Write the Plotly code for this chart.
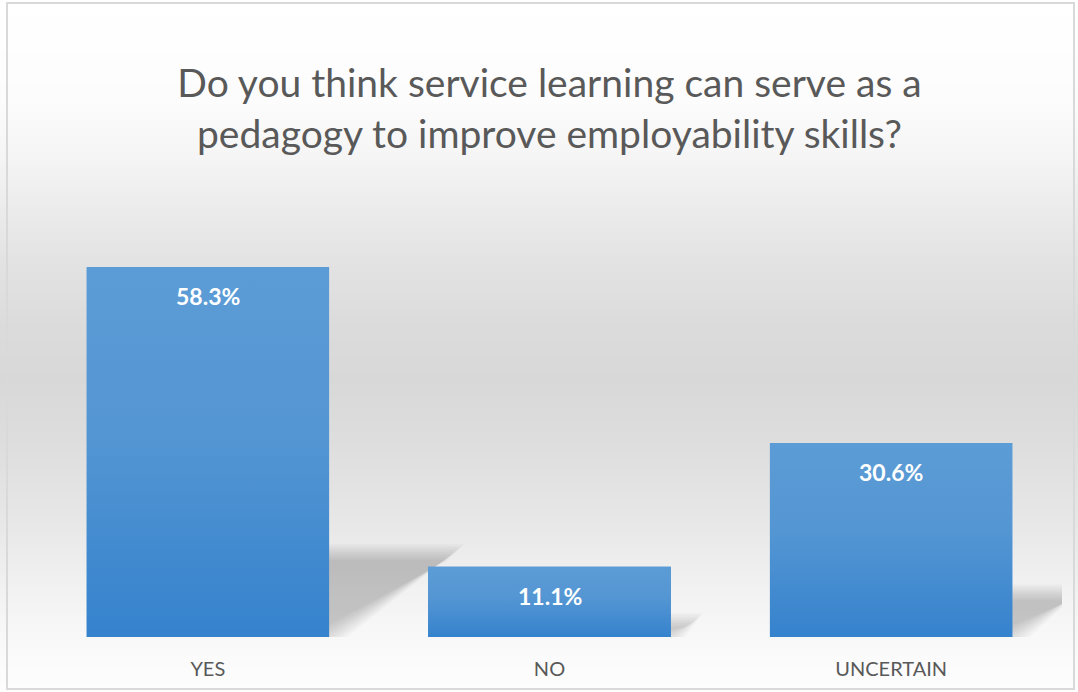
import plotly.graph_objects as go

# Survey answers and their share of respondents (%)
categories = ["YES", "NO", "UNCERTAIN"]
percentages = [58.3, 11.1, 30.6]

TITLE = "Do you think service learning can serve as a<br>pedagogy to improve employability skills?"

# ---- geometry -------------------------------------------------------------
W, H = 1078, 692
M = dict(l=37, r=16, t=193, b=55)
PW = W - M["l"] - M["r"]
PH = H - M["t"] - M["b"]
Y_MAX = 70
BAR_W = 0.71
PX_PER_X = PW / len(categories)
PX_PER_Y = PH / Y_MAX

TEXT_GREY = "#595959"
BAR_TOP = "rgb(92,156,214)"
BAR_MID = "rgb(84,150,211)"
BAR_BOTTOM = "rgb(53,130,205)"
FONT = "Lato"


def paper_x(px):
    return (px - M["l"]) / PW


def paper_y(py):
    return (H - M["b"] - py) / PH


shapes = []

# chart-area background: soft vertical grey gradient (light - grey - light)
bg_stops = [(0, 255), (100, 252), (150, 246), (200, 237), (260, 227),
            (330, 219), (380, 216), (450, 222), (520, 231), (580, 240),
            (620, 246), (660, 251), (692, 253)]


def grey_at(py):
    for (y0, g0), (y1, g1) in zip(bg_stops[:-1], bg_stops[1:]):
        if y0 <= py <= y1:
            t = (py - y0) / (y1 - y0)
            return g0 + (g1 - g0) * t
    return bg_stops[-1][1]


STEP = 4
for top in range(0, H, STEP):
    g = round(grey_at(top + STEP / 2))
    shapes.append(dict(
        type="rect", xref="paper", yref="paper", layer="below",
        x0=paper_x(0), x1=paper_x(W), y0=paper_y(top), y1=paper_y(top + STEP + 0.5),
        fillcolor=f"rgb({g},{g},{g})", line=dict(width=0)))

# chart border
shapes.append(dict(
    type="rect", xref="paper", yref="paper", layer="above",
    x0=paper_x(7), x1=paper_x(1074), y0=paper_y(689), y1=paper_y(3),
    fillcolor="rgba(0,0,0,0)", line=dict(color="#d9d9d9", width=2)))

# perspective shadows cast behind each bar (stacked layers for a soft edge)
SHADOW_RATIO = 0.23   # shadow height relative to bar height
SHADOW_SLANT = 1.5    # horizontal run per unit of shadow height
blur_steps = [-8, -6, -4, -2, 0, 2, 4, 6, 8]
for i, v in enumerate(percentages):
    xl, xr = i - BAR_W / 2, i + BAR_W / 2
    hs = SHADOW_RATIO * v
    shift = SHADOW_SLANT * hs * PX_PER_Y / PX_PER_X
    for d in blur_steps:
        dy = d / PX_PER_Y
        dx = d / PX_PER_X
        path = (f"M {xl},{-dy} L {xr + dx},{-dy} "
                f"L {xr + shift + dx},{hs + dy} L {xl + shift},{hs + dy} Z")
        shapes.append(dict(
            type="path", xref="x", yref="y", layer="below", path=path,
            fillcolor="black", opacity=0.024, line=dict(width=0)))

fig = go.Figure()

# bars
fig.add_trace(go.Bar(
    x=list(range(len(categories))), y=percentages, width=BAR_W,
    marker=dict(color=BAR_MID, line=dict(width=0)),
    hoverinfo="skip", showlegend=False))

# vertical colour gradient on each bar
for i, v in enumerate(percentages):
    xl, xr = i - BAR_W / 2, i + BAR_W / 2
    fig.add_trace(go.Scatter(
        x=[xl, xr, xr, xl, xl], y=[0, 0, v, v, 0],
        mode="lines", fill="toself", line=dict(width=0),
        fillgradient=dict(type="vertical",
                          colorscale=[[0, BAR_BOTTOM], [0.55, BAR_MID], [1, BAR_TOP]]),
        hoverinfo="skip", showlegend=False))

# value labels inside the bar tops
annotations = []
for i, v in enumerate(percentages):
    annotations.append(dict(
        x=i, y=v, xref="x", yref="y", text=f"{v:.1f}%", showarrow=False,
        yanchor="middle", yshift=-29,
        font=dict(family=FONT, size=23, color="white", weight="bold")))

fig.update_layout(
    width=W, height=H, margin=M,
    paper_bgcolor="white", plot_bgcolor="rgba(0,0,0,0)",
    title=dict(text=TITLE, x=549.5 / W, xref="container", xanchor="center",
               y=1 - 97 / H, yref="container", yanchor="middle",
               font=dict(family=FONT, size=39, color=TEXT_GREY)),
    xaxis=dict(range=[-0.5, len(categories) - 0.5],
               tickvals=list(range(len(categories))), ticktext=categories,
               tickfont=dict(family=FONT, size=20, color=TEXT_GREY),
               ticks="", ticklabelstandoff=18,
               showgrid=False, zeroline=False, showline=False, fixedrange=True),
    yaxis=dict(range=[0, Y_MAX], visible=False, showgrid=False,
               zeroline=False, fixedrange=True),
    shapes=shapes, annotations=annotations,
    bargap=0, showlegend=False,
)

fig.write_html("out.html")
